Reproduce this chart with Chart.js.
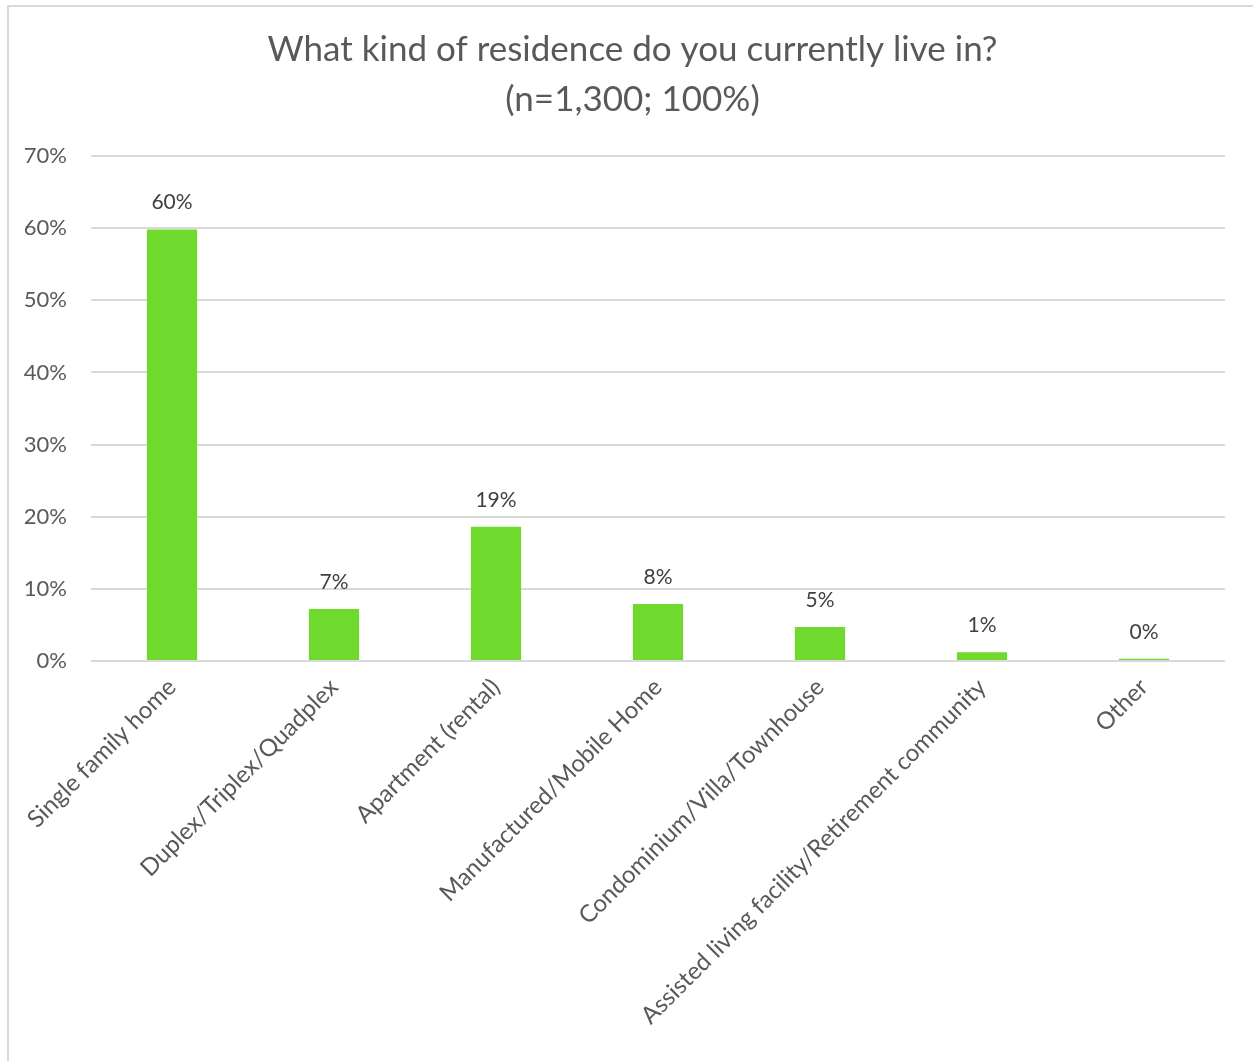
<!DOCTYPE html>
<html>
<head>
<meta charset="utf-8">
<script src="https://cdn.jsdelivr.net/npm/chart.js@4"></script>
<style>
  html, body { margin: 0; padding: 0; background: #fff; }
  #wrap { position: relative; width: 1253px; height: 1061px; }
  #frame { position: absolute; left: 7px; top: 5px; width: 1260px; height: 1070px; border: 2px solid #d9d9d9; box-sizing: border-box; }
  canvas { position: absolute; left: 0; top: 0; }
</style>
</head>
<body>
<div id="wrap">
  <div id="frame"></div>
  <canvas id="chart" width="1253" height="1061"></canvas>
</div>
<script>
const categories = [
  'Single family home',
  'Duplex/Triplex/Quadplex',
  'Apartment (rental)',
  'Manufactured/Mobile Home',
  'Condominium/Villa/Townhouse',
  'Assisted living facility/Retirement community',
  'Other'
];
const shares = [59.8, 7.2, 18.6, 7.9, 4.7, 1.2, 0.3];
const shareLabels = ['60%', '7%', '19%', '8%', '5%', '1%', '0%'];
const yTicks = [0, 10, 20, 30, 40, 50, 60, 70];
const titleLines = ['What kind of residence do you currently live in?', '(n=1,300; 100%)'];

const fontFamily = "Lato, 'Open Sans', sans-serif";

// value labels over each bar + the two-line title
const annotate = {
  id: 'annotate',
  afterDraw(chart) {
    const ctx = chart.ctx;
    const meta = chart.getDatasetMeta(0);
    ctx.save();
    ctx.fillStyle = '#404040';
    ctx.font = '21px ' + fontFamily;
    ctx.textAlign = 'center';
    ctx.textBaseline = 'middle';
    meta.data.forEach((bar, i) => {
      ctx.fillText(shareLabels[i], bar.x, bar.y - 27);
    });

    ctx.fillStyle = '#595959';
    ctx.font = '35px ' + fontFamily;
    const cx = chart.width / 2 + 6;
    titleLines.forEach((line, i) => ctx.fillText(line, cx, 50 + i * 50));
    ctx.restore();
  }
};

new Chart(document.getElementById('chart'), {
  type: 'bar',
  data: {
    labels: categories,
    datasets: [{
      data: shares,
      backgroundColor: '#70d92e',
      borderWidth: 0,
      categoryPercentage: 1,
      barPercentage: 0.31
    }]
  },
  options: {
    responsive: false,
    animation: false,
    layout: { padding: { left: 0, right: 28, top: 156, bottom: 0 } },
    plugins: {
      legend: { display: false },
      tooltip: { enabled: false },
      title: { display: false }
    },
    scales: {
      x: {
        grid: { display: false },
        border: { display: false },
        ticks: {
          color: '#595959',
          font: { family: fontFamily, size: 24 },
          minRotation: 45,
          maxRotation: 45,
          padding: 4
        },
        afterFit(scale) { scale.height = 400; }
      },
      y: {
        min: 0,
        max: 70,
        afterBuildTicks(scale) { scale.ticks = yTicks.map(v => ({ value: v })); },
        grid: { color: '#d9d9d9', lineWidth: 2, drawTicks: false },
        border: { display: false },
        ticks: {
          color: '#595959',
          font: { family: fontFamily, size: 22 },
          padding: 24,
          callback: v => v + '%'
        },
        afterFit(scale) { scale.width = 91; }
      }
    }
  },
  plugins: [annotate]
});
</script>
</body>
</html>
